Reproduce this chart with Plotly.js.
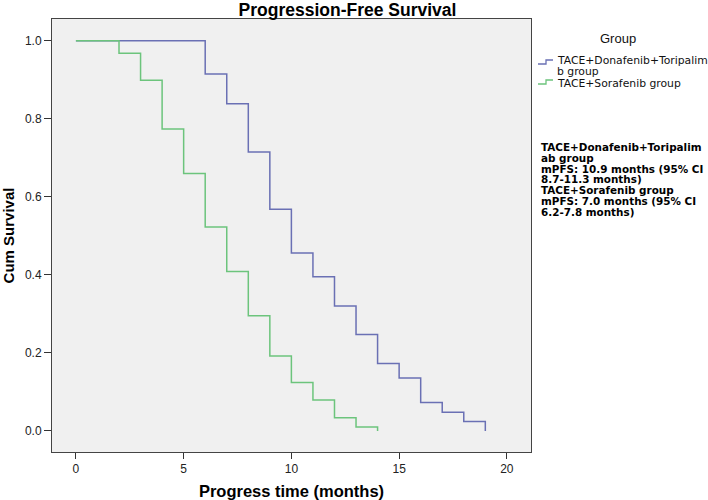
<!DOCTYPE html>
<html>
<head>
<meta charset="utf-8">
<script src="https://cdn.plot.ly/plotly-3.0.1.min.js"></script>
<style>html,body{margin:0;padding:0;background:#fff;}#chart{width:708px;height:500px;}</style>
</head>
<body>
<div id="chart"></div>
<script>
// ---- data ----
const groupNames = ["TACE+Donafenib+Toripalimab group", "TACE+Sorafenib group"];
const donaTimes = [0, 6, 7, 8, 9, 10, 11, 12, 13, 14, 15, 16, 17, 18, 19];
const donaSurv  = [1.0, 0.915, 0.839, 0.715, 0.568, 0.456, 0.395, 0.320, 0.247, 0.173, 0.136, 0.073, 0.048, 0.024, 0.0];
const soraTimes = [0, 2, 3, 4, 5, 6, 7, 8, 9, 10, 11, 12, 13, 14];
const soraSurv  = [1.0, 0.968, 0.899, 0.774, 0.660, 0.523, 0.409, 0.295, 0.192, 0.124, 0.079, 0.034, 0.010, 0.0];
const xTicks = [0, 5, 10, 15, 20];
const yTicks = [0.0, 0.2, 0.4, 0.6, 0.8, 1.0];
const legendTitle = "Group";
const legendLines = [["TACE+Donafenib+Toripalima", "b group"], ["TACE+Sorafenib group"]];
const statLines = [
  "TACE+Donafenib+Toripalim",
  "ab group",
  "mPFS: 10.9 months (95% CI",
  "8.7-11.3 months)",
  "TACE+Sorafenib group",
  "mPFS: 7.0 months (95% CI",
  "6.2-7.8 months)"
];

// ---- layout geometry ----
const W = 708, H = 500;
const M = {l: 52, r: 177, t: 19, b: 48};
const PW = W - M.l - M.r, PH = H - M.t - M.b;
const px = x => (x - M.l) / PW;
const py = y => (H - M.b - y) / PH;
const FONT = "Liberation Sans, Arial, sans-serif";
const WIDE = "DejaVu Sans, Liberation Sans, sans-serif";
const BLUE = "#6a70b4", GREEN = "#6cc47c";

const traces = [
  {x: donaTimes, y: donaSurv, name: groupNames[0], type: "scatter", mode: "lines",
   line: {shape: "hv", color: BLUE, width: 1.5}},
  {x: soraTimes, y: soraSurv, name: groupNames[1], type: "scatter", mode: "lines",
   line: {shape: "hv", color: GREEN, width: 1.5}}
];

const annotations = [];
annotations.push({xref: "paper", yref: "paper", x: px(618), y: py(38), xanchor: "center", yanchor: "middle",
  text: legendTitle, showarrow: false, borderpad: 0, font: {family: FONT, size: 13, color: "#111"}});
const legY = [[61, 71.5], [83]];
legendLines.forEach((lines, i) => lines.forEach((t, j) => {
  annotations.push({xref: "paper", yref: "paper", x: px(556), y: py(legY[i][j]), xanchor: "left", yanchor: "middle",
    text: t, showarrow: false, borderpad: 0, font: {family: WIDE, size: 10.8, color: "#111"}});
}));
statLines.forEach((t, i) => {
  annotations.push({xref: "paper", yref: "paper", x: px(540), y: py(147 + i * 10.8), xanchor: "left", yanchor: "middle",
    text: "<b>" + t + "</b>", showarrow: false, borderpad: 0, font: {family: WIDE, size: 10.4, color: "#000"}});
});

function stepIcon(yLow, color) {
  const p = `M ${px(538)},${py(yLow)} L ${px(546)},${py(yLow)} L ${px(546)},${py(yLow - 4)} L ${px(553)},${py(yLow - 4)}`;
  return {type: "path", xref: "paper", yref: "paper", path: p, line: {color: color, width: 1.3}};
}
const shapes = [stepIcon(64, BLUE), stepIcon(84, GREEN)];

const layout = {
  width: W, height: H,
  margin: M,
  paper_bgcolor: "#ffffff",
  plot_bgcolor: "#f0f0f0",
  showlegend: false,
  font: {family: FONT, size: 12, color: "#222"},
  title: {text: "<b>Progression-Free Survival</b>", xref: "container", yref: "container",
          x: 347.5 / W, xanchor: "center", y: 1 - 9.5 / H, yanchor: "middle",
          font: {family: FONT, size: 17.5, color: "#000"}},
  xaxis: {range: [-1.11, 21.12], tickvals: xTicks, ticktext: xTicks.map(String),
          ticks: "outside", ticklen: 6, tickcolor: "#333", tickwidth: 1,
          showline: true, mirror: true, linecolor: "#444", linewidth: 1,
          showgrid: false, zeroline: false, fixedrange: true,
          tickfont: {family: FONT, size: 12, color: "#222"},
          title: {text: "<b>Progress time (months)</b>", standoff: 10,
                  font: {family: FONT, size: 16.5, color: "#000"}}},
  yaxis: {range: [-0.054, 1.056], tickvals: yTicks, ticktext: yTicks.map(v => v.toFixed(1)),
          ticks: "outside", ticklen: 7, tickcolor: "#333", tickwidth: 1,
          showline: true, mirror: true, linecolor: "#444", linewidth: 1,
          showgrid: false, zeroline: false, fixedrange: true,
          tickfont: {family: FONT, size: 12, color: "#222"},
          title: {text: "<b>Cum Survival</b>", standoff: 10,
                  font: {family: FONT, size: 15, color: "#000"}}},
  annotations: annotations,
  shapes: shapes
};

Plotly.newPlot("chart", traces, layout, {displayModeBar: false, staticPlot: true});
</script>
</body>
</html>
